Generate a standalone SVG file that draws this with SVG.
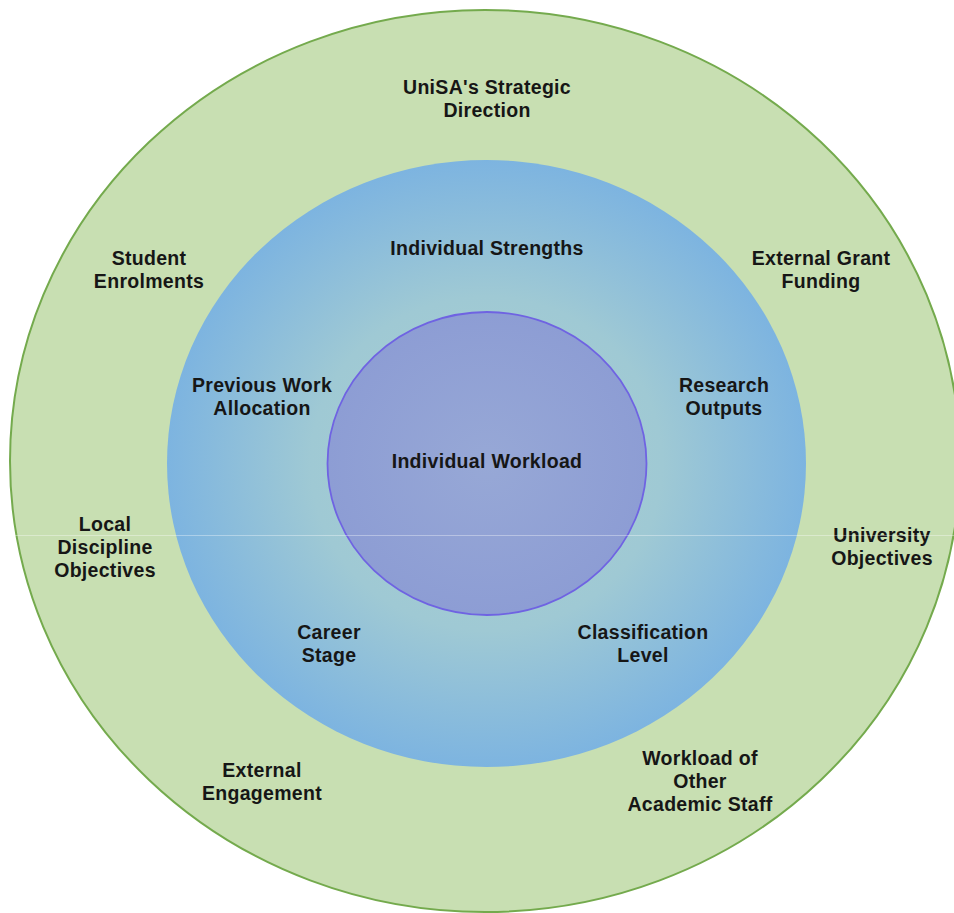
<svg xmlns="http://www.w3.org/2000/svg" width="954" height="913" viewBox="0 0 954 913">
  <defs>
    <radialGradient id="ringBlue" cx="0.5" cy="0.5" r="0.5">
      <stop offset="0" stop-color="#a9cfd0"/>
      <stop offset="0.55" stop-color="#9fc9d4"/>
      <stop offset="1" stop-color="#7db4e0"/>
    </radialGradient>
    <radialGradient id="corePurple" cx="0.5" cy="0.5" r="0.5">
      <stop offset="0" stop-color="#97a8d6"/>
      <stop offset="1" stop-color="#8d9dd4"/>
    </radialGradient>
    <style>
      .lbl { font-family: "Liberation Sans", Arial, sans-serif; font-weight: bold; font-size: 19.5px; letter-spacing: 0.3px; fill: #161616; text-anchor: middle; }
    </style>
  </defs>

  <rect width="954" height="913" fill="#ffffff"/>

  <!-- outer ring: organisational context -->
  <g id="context-ring">
    <ellipse cx="485" cy="461" rx="475" ry="451" fill="#c8dfb2" stroke="#74aa4d" stroke-width="2"/>
    <text class="lbl" x="487" y="94">UniSA's Strategic</text>
    <text class="lbl" x="487" y="117">Direction</text>
    <text class="lbl" x="149" y="265">Student</text>
    <text class="lbl" x="149" y="288">Enrolments</text>
    <text class="lbl" x="821" y="265">External Grant</text>
    <text class="lbl" x="821" y="288">Funding</text>
    <text class="lbl" x="105" y="531">Local</text>
    <text class="lbl" x="105" y="554">Discipline</text>
    <text class="lbl" x="105" y="577">Objectives</text>
    <text class="lbl" x="882" y="542">University</text>
    <text class="lbl" x="882" y="565">Objectives</text>
    <text class="lbl" x="262" y="777">External</text>
    <text class="lbl" x="262" y="800">Engagement</text>
    <text class="lbl" x="700" y="765">Workload of</text>
    <text class="lbl" x="700" y="788">Other</text>
    <text class="lbl" x="700" y="811">Academic Staff</text>
  </g>

  <!-- middle ring: individual factors -->
  <g id="individual-ring">
    <ellipse cx="486.5" cy="463.5" rx="319.5" ry="303.5" fill="url(#ringBlue)"/>
    <text class="lbl" x="487" y="255">Individual Strengths</text>
    <text class="lbl" x="262" y="392">Previous Work</text>
    <text class="lbl" x="262" y="415">Allocation</text>
    <text class="lbl" x="724" y="392">Research</text>
    <text class="lbl" x="724" y="415">Outputs</text>
    <text class="lbl" x="329" y="639">Career</text>
    <text class="lbl" x="329" y="662">Stage</text>
    <text class="lbl" x="643" y="639">Classification</text>
    <text class="lbl" x="643" y="662">Level</text>
  </g>

  <!-- core -->
  <g id="individual-workload">
    <ellipse cx="487" cy="463.5" rx="159.5" ry="151.5" fill="url(#corePurple)" stroke="#6f63e2" stroke-width="1.8"/>
    <text class="lbl" x="487" y="468">Individual Workload</text>
  </g>

  <!-- faint horizontal seam across the figure -->
  <line x1="12" y1="535.5" x2="954" y2="535.5" stroke="#ffffff" stroke-opacity="0.35" stroke-width="1"/>
</svg>
